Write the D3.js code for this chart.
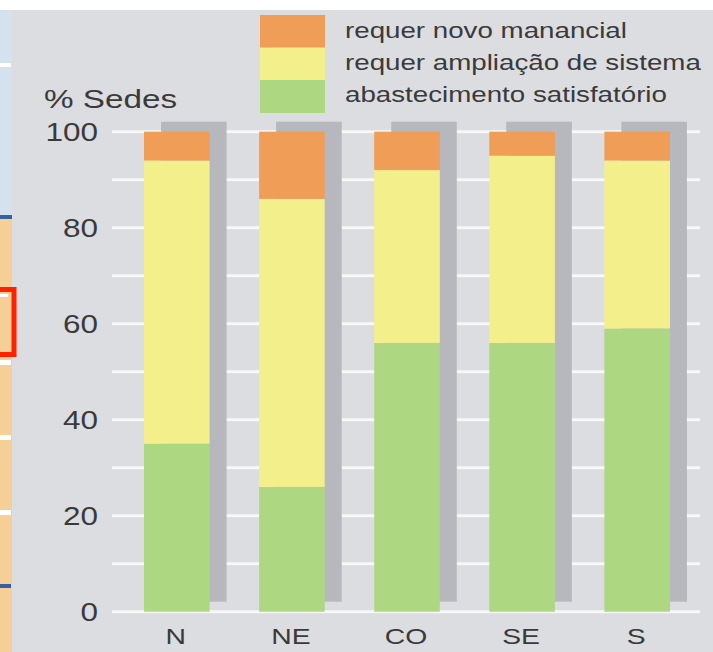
<!DOCTYPE html>
<html><head><meta charset="utf-8">
<script src="https://cdn.jsdelivr.net/npm/d3@7"></script>
<style>html,body{margin:0;padding:0;background:#fff;}svg{display:block;}</style>
</head><body>
<svg id="c" width="713" height="652"></svg>
<script>
const categories = ["N", "NE", "CO", "SE", "S"];
const satisfatorio = [35, 26, 56, 56, 59];
const ampliacao = [59, 60, 36, 39, 35];
const novoManancial = [6, 14, 8, 5, 6];
const seriesNames = ["abastecimento satisfatório", "requer ampliação de sistema", "requer novo manancial"];
const seriesColors = ["#aed782", "#f3ef8b", "#ef9d57"];
const yTicks = [0, 20, 40, 60, 80, 100];
const yGrid = [0, 10, 20, 30, 40, 50, 60, 70, 80, 90, 100];
const yTitle = "% Sedes";

const FONT = "Liberation Sans, Arial, Helvetica, sans-serif";
const TXT = "#3a3a3a";
const SX = 1.26; // horizontal stretch of the original lettering

const svg = d3.select("#c");
const W = 713, H = 652;
svg.append("rect").attr("x", 0).attr("y", 0).attr("width", W).attr("height", H).attr("fill", "#ffffff");
svg.append("rect").attr("x", 12).attr("y", 10).attr("width", W - 12).attr("height", H - 10).attr("fill", "#dcdde1");

// left strip (cropped neighbouring content)
const strip = svg.append("g");
strip.append("rect").attr("x", 0).attr("y", 10).attr("width", 12).attr("height", 205).attr("fill", "#d3e2ee");
strip.append("rect").attr("x", 0).attr("y", 215).attr("width", 12).attr("height", 4).attr("fill", "#3a5fa0");
strip.append("rect").attr("x", 0).attr("y", 219).attr("width", 12).attr("height", H - 219).attr("fill", "#f6cf96");
strip.append("rect").attr("x", 0).attr("y", 63).attr("width", 11).attr("height", 4).attr("fill", "#ffffff");
[360, 435, 510].forEach(y => strip.append("rect").attr("x", 0).attr("y", y).attr("width", 11).attr("height", 5).attr("fill", "#ffffff"));
strip.append("rect").attr("x", 0).attr("y", 584).attr("width", 11).attr("height", 4).attr("fill", "#3a5fa0");
strip.append("rect").attr("x", -4).attr("y", 289.5).attr("width", 18).attr("height", 65).attr("fill", "none").attr("stroke", "#ff2200").attr("stroke-width", 5);
strip.append("rect").attr("x", 0).attr("y", 294).attr("width", 8).attr("height", 3).attr("fill", "#ffffff");

const y = d3.scaleLinear().domain([0, 100]).range([611.7, 131.7]);
const x = d3.scaleBand().domain(categories).range([121, 693]).paddingInner(0.43).paddingOuter(0.2);

// gridlines
svg.append("g").selectAll("line").data(yGrid).join("line")
  .attr("x1", 112).attr("x2", 700)
  .attr("y1", d => y(d)).attr("y2", d => y(d))
  .attr("stroke", "#f7f7f8").attr("stroke-width", 3);

// stacked data
const rows = categories.map((c, i) => ({cat: c, s0: satisfatorio[i], s1: ampliacao[i], s2: novoManancial[i]}));
const stack = d3.stack().keys(["s0", "s1", "s2"])(rows);
const totals = rows.map(r => r.s0 + r.s1 + r.s2);

// shadows
svg.append("g").selectAll("rect").data(rows).join("rect")
  .attr("x", d => x(d.cat) + 17)
  .attr("y", (d, i) => y(totals[i]) - 10)
  .attr("width", x.bandwidth())
  .attr("height", (d, i) => y(0) - y(totals[i]))
  .attr("fill", "#b6b8bd");

// bars
svg.append("g").selectAll("g").data(stack).join("g")
  .attr("fill", (d, i) => seriesColors[i])
  .selectAll("rect").data(d => d).join("rect")
  .attr("x", d => x(d.data.cat))
  .attr("y", d => y(d[1]))
  .attr("width", x.bandwidth())
  .attr("height", d => y(d[0]) - y(d[1]));

// y tick labels
svg.append("g").selectAll("text").data(yTicks).join("text")
  .attr("transform", d => `translate(98,${y(d) + 9}) scale(${SX},1)`)
  .attr("text-anchor", "end")
  .attr("font-family", FONT).attr("font-size", 25)
  .attr("fill", TXT).text(d => d);

svg.append("text").attr("transform", `translate(44,108) scale(1.33,1)`)
  .attr("font-family", FONT).attr("font-size", 25)
  .attr("fill", TXT).text(yTitle);

// x labels
svg.append("g").selectAll("text").data(categories).join("text")
  .attr("transform", d => `translate(${x(d) + x.bandwidth() / 2 - 1},644) scale(${SX},1)`)
  .attr("text-anchor", "middle")
  .attr("font-family", FONT).attr("font-size", 22.5)
  .attr("fill", TXT).text(d => d);

// legend (top to bottom: novo manancial, ampliação, satisfatório)
const legendOrder = [2, 1, 0];
const lg = svg.append("g");
legendOrder.forEach((si, k) => {
  lg.append("rect").attr("x", 260).attr("y", 15 + k * 32.5).attr("width", 65).attr("height", 33)
    .attr("fill", seriesColors[si]);
  lg.append("text").attr("transform", `translate(345,${38 + k * 32}) scale(${SX},1)`)
    .attr("font-family", FONT).attr("font-size", 22)
    .attr("fill", TXT).text(seriesNames[si]);
});
</script>
</body></html>
